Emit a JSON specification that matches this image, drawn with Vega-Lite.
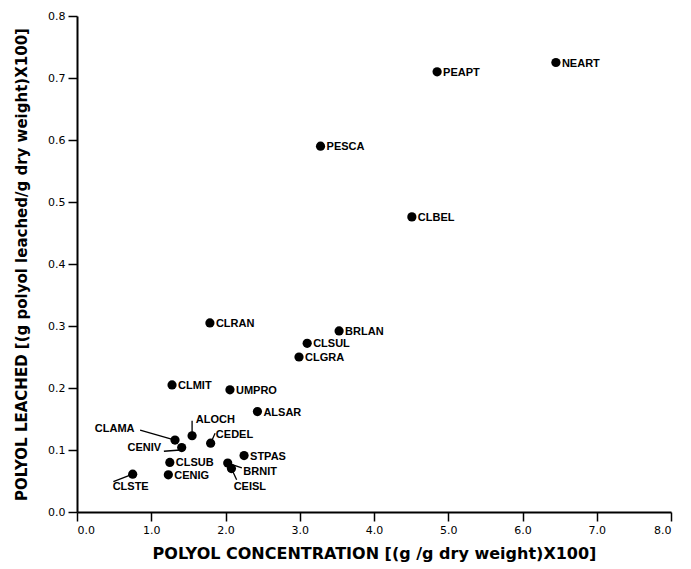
{
  "$schema": "https://vega.github.io/schema/vega-lite/v6.json",
  "autosize": {"type": "none"},
  "padding": {"left": 77, "top": 16, "right": 20, "bottom": 57},
  "width": 594,
  "height": 496,
  "background": "white",
  "config": {
    "view": {"stroke": null},
    "font": "Liberation Sans",
    "axis": {
      "grid": false,
      "domainColor": "black",
      "domainWidth": 2,
      "tickColor": "black",
      "tickWidth": 1.5,
      "tickSize": 9,
      "labelColor": "black",
      "labelFont": "DejaVu Sans",
      "labelFontSize": 11,
      "titleColor": "black",
      "titleFont": "DejaVu Sans",
      "titleFontSize": 15,
      "titleFontWeight": "bold"
    }
  },
  "datasets": {
    "points": [
      {"name": "NEART", "x": 6.45, "y": 0.725},
      {"name": "PEAPT", "x": 4.85, "y": 0.710},
      {"name": "PESCA", "x": 3.28, "y": 0.590},
      {"name": "CLBEL", "x": 4.51, "y": 0.476},
      {"name": "CLRAN", "x": 1.79, "y": 0.305},
      {"name": "BRLAN", "x": 3.53, "y": 0.292},
      {"name": "CLSUL", "x": 3.10, "y": 0.272},
      {"name": "CLGRA", "x": 2.99, "y": 0.250},
      {"name": "CLMIT", "x": 1.28, "y": 0.205},
      {"name": "UMPRO", "x": 2.06, "y": 0.197},
      {"name": "ALSAR", "x": 2.43, "y": 0.162},
      {"name": "ALOCH", "x": 1.55, "y": 0.123},
      {"name": "CEDEL", "x": 1.80, "y": 0.111},
      {"name": "CLAMA", "x": 1.32, "y": 0.116},
      {"name": "CENIV", "x": 1.41, "y": 0.104},
      {"name": "STPAS", "x": 2.25, "y": 0.091},
      {"name": "CLSUB", "x": 1.25, "y": 0.080},
      {"name": "BRNIT", "x": 2.03, "y": 0.079},
      {"name": "CEISL", "x": 2.08, "y": 0.070},
      {"name": "CLSTE", "x": 0.75, "y": 0.061},
      {"name": "CENIG", "x": 1.23, "y": 0.060}
    ],
    "callouts": [
      {"name": "CLAMA", "lx": 0.24, "ly": 0.134, "x1": 0.85, "y1": 0.132, "x2": 1.32, "y2": 0.116},
      {"name": "CENIV", "lx": 0.68, "ly": 0.103, "x1": 1.17, "y1": 0.098, "x2": 1.39, "y2": 0.100},
      {"name": "ALOCH", "lx": 1.60, "ly": 0.148, "x1": 1.55, "y1": 0.147, "x2": 1.55, "y2": 0.123},
      {"name": "CEDEL", "lx": 1.87, "ly": 0.124, "x1": 1.86, "y1": 0.127, "x2": 1.80, "y2": 0.111},
      {"name": "BRNIT", "lx": 2.24, "ly": 0.065, "x1": 2.03, "y1": 0.079, "x2": 2.22, "y2": 0.071},
      {"name": "CEISL", "lx": 2.11, "ly": 0.040, "x1": 2.08, "y1": 0.070, "x2": 2.15, "y2": 0.052},
      {"name": "CLSTE", "lx": 0.48, "ly": 0.041, "x1": 0.49, "y1": 0.049, "x2": 0.75, "y2": 0.061}
    ]
  },
  "layer": [
    {
      "data": {"name": "points"},
      "mark": {"type": "point", "filled": true, "color": "black", "opacity": 1, "size": 85},
      "encoding": {
        "x": {
          "field": "x", "type": "quantitative",
          "scale": {"domain": [0, 8], "nice": false, "zero": true},
          "axis": {"values": [0, 1, 2, 3, 4, 5, 6, 7, 8], "format": ".1f", "labelPadding": 3, "title": "POLYOL CONCENTRATION  [(g /g dry weight)X100]", "titleFontSize": 16, "titlePadding": 10}
        },
        "y": {
          "field": "y", "type": "quantitative",
          "scale": {"domain": [0, 0.8], "nice": false},
          "axis": {"values": [0, 0.1, 0.2, 0.3, 0.4, 0.5, 0.6, 0.7, 0.8], "format": ".1f", "labelPadding": 3, "title": "POLYOL LEACHED [(g polyol leached/g dry weight)X100]", "titlePadding": 18}
        }
      }
    },
    {
      "data": {"name": "points"},
      "transform": [{"filter": {"not": {"field": "name", "oneOf": ["CLAMA", "CENIV", "ALOCH", "CEDEL", "BRNIT", "CEISL", "CLSTE"]}}}],
      "mark": {"type": "text", "align": "left", "baseline": "middle", "dx": 6, "dy": 1, "fontSize": 11, "fontWeight": "bold", "font": "Liberation Sans", "color": "black"},
      "encoding": {
        "x": {"field": "x", "type": "quantitative"},
        "y": {"field": "y", "type": "quantitative"},
        "text": {"field": "name"}
      }
    },
    {
      "data": {"name": "callouts"},
      "mark": {"type": "rule", "color": "black", "strokeWidth": 1.3},
      "encoding": {
        "x": {"field": "x1", "type": "quantitative"},
        "y": {"field": "y1", "type": "quantitative"},
        "x2": {"field": "x2"},
        "y2": {"field": "y2"}
      }
    },
    {
      "data": {"name": "callouts"},
      "mark": {"type": "text", "align": "left", "baseline": "middle", "fontSize": 11, "fontWeight": "bold", "font": "Liberation Sans", "color": "black"},
      "encoding": {
        "x": {"field": "lx", "type": "quantitative"},
        "y": {"field": "ly", "type": "quantitative"},
        "text": {"field": "name"}
      }
    }
  ]
}
